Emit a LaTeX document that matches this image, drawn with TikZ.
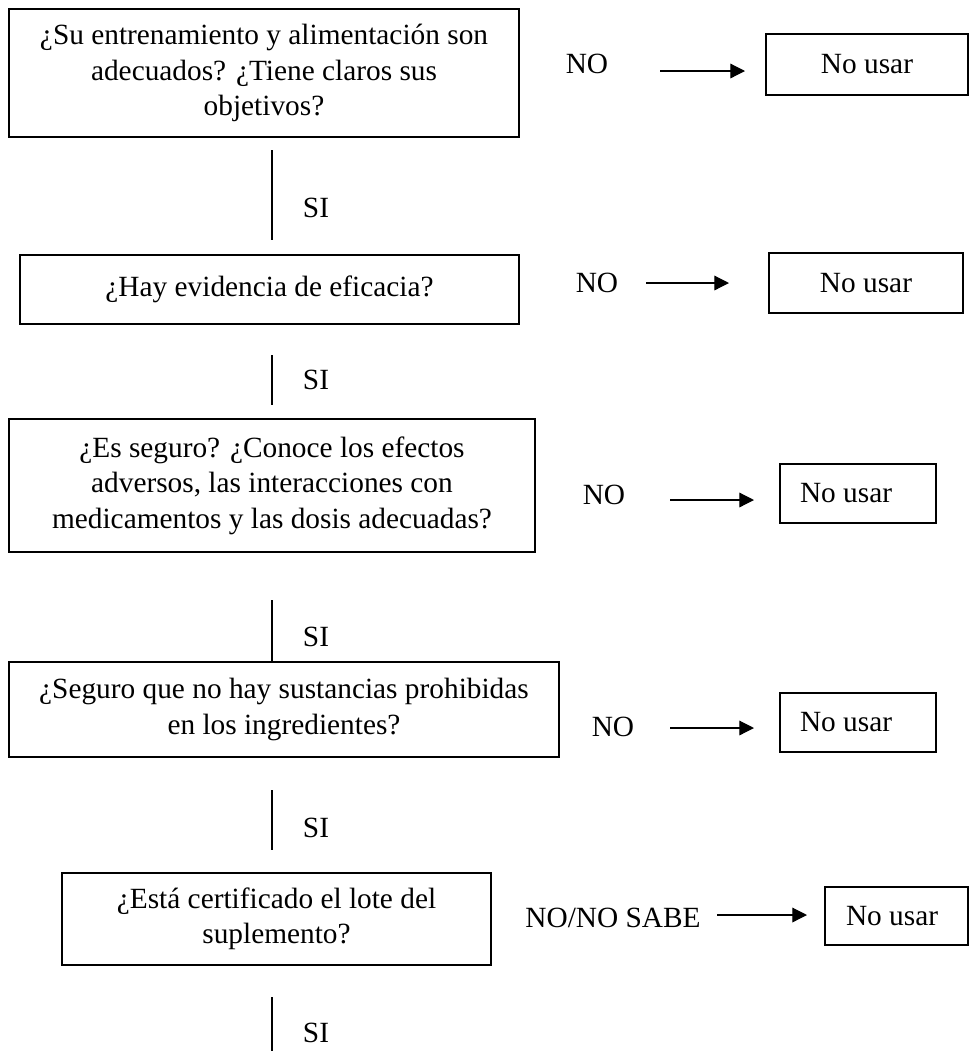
\documentclass[tikz,border=0pt]{standalone}
\usepackage{fontspec}
\setmainfont{Liberation Serif}
\usetikzlibrary{arrows.meta}
\begin{document}
\begin{tikzpicture}[x=0.75pt,y=-0.75pt,
  txt/.style={font=\fontsize{22}{26.5}\selectfont},
  qbox/.style={txt,draw,line width=1.3pt,align=center,inner sep=0pt},
  ubox/.style={txt,draw,line width=1.3pt,inner sep=0pt},
  lbl/.style={txt,inner sep=0pt},
  arr/.style={-{Triangle[length=11pt,width=11pt]},line width=0.9pt},
  vline/.style={line width=1pt}]
\useasboundingbox (0,0) rectangle (969,1051);

% ---- row 1
\node[qbox,minimum width=382.5pt,minimum height=96pt] (q1) at (264,73)
  {¿Su entrenamiento y alimentación son\\adecuados? ¿Tiene claros sus\\objetivos?};
\node[lbl] (n1) at (587,64) {NO};
\node[ubox,minimum width=151.5pt,minimum height=45.75pt] (u1) at (867,64.5) {No usar};
\coordinate (a1s) at (660,71);
\coordinate (a1e) at (745,71);
\draw[arr] (a1s) -- (a1e);

\coordinate (s1a) at (272,150);
\coordinate (s1b) at (272,240);
\draw[vline] (s1a) -- (s1b);
\node[lbl] (si1) at (316,208) {SI};

% ---- row 2
\node[qbox,minimum width=374.25pt,minimum height=51.75pt] (q2) at (269.5,289.5)
  {¿Hay evidencia de eficacia?};
\node[lbl] (n2) at (597,283) {NO};
\node[ubox,minimum width=145.5pt,minimum height=45pt] (u2) at (866,283) {No usar};
\coordinate (a2s) at (646,283);
\coordinate (a2e) at (729,283);
\draw[arr] (a2s) -- (a2e);

\coordinate (s2a) at (272,355);
\coordinate (s2b) at (272,405);
\draw[vline] (s2a) -- (s2b);
\node[lbl] (si2) at (316,380) {SI};

% ---- row 3
\node[qbox,minimum width=394.5pt,minimum height=99.75pt] (q3) at (272,485.5)
  {¿Es seguro? ¿Conoce los efectos\\adversos, las interacciones con\\medicamentos y las dosis adecuadas?};
\node[lbl] (n3) at (604,495) {NO};
\node[ubox,inner xsep=15pt,minimum height=44.25pt] (u3) at (858,493.5) {\makebox[87pt][l]{No usar}};
\coordinate (a3s) at (670,500);
\coordinate (a3e) at (754,500);
\draw[arr] (a3s) -- (a3e);

\coordinate (s3a) at (272,600);
\node[qbox,minimum width=412.5pt,minimum height=71.25pt] (q4) at (284,709.5)
  {¿Seguro que no hay sustancias prohibidas\\en los ingredientes?};
\draw[vline] (s3a) -- (s3a |- q4.north);
\node[lbl] (si3) at (316,637) {SI};

% ---- row 4
\node[lbl] (n4) at (613,727) {NO};
\node[ubox,inner xsep=15pt,minimum height=44.25pt] (u4) at (858,722.5) {\makebox[87pt][l]{No usar}};
\coordinate (a4s) at (670,728);
\coordinate (a4e) at (754,728);
\draw[arr] (a4s) -- (a4e);

\coordinate (s4a) at (272,790);
\coordinate (s4b) at (272,850);
\draw[vline] (s4a) -- (s4b);
\node[lbl] (si4) at (316,828) {SI};

% ---- row 5
\node[qbox,minimum width=321.75pt,minimum height=69pt] (q5) at (276.5,919)
  {¿Está certificado el lote del\\suplemento?};
\node[lbl] (n5) at (613,918) {NO/NO SABE};
\node[ubox,inner xsep=15.75pt,minimum height=43.5pt] (u5) at (896.5,916) {\makebox[75.75pt][l]{No usar}};
\coordinate (a5s) at (717,915);
\coordinate (a5e) at (807,915);
\draw[arr] (a5s) -- (a5e);

\coordinate (s5a) at (272,997);
\coordinate (s5b) at (272,1051);
\draw[vline] (s5a) -- (s5b);
\node[lbl] (si5) at (316,1033) {SI};
\end{tikzpicture}
\end{document}
